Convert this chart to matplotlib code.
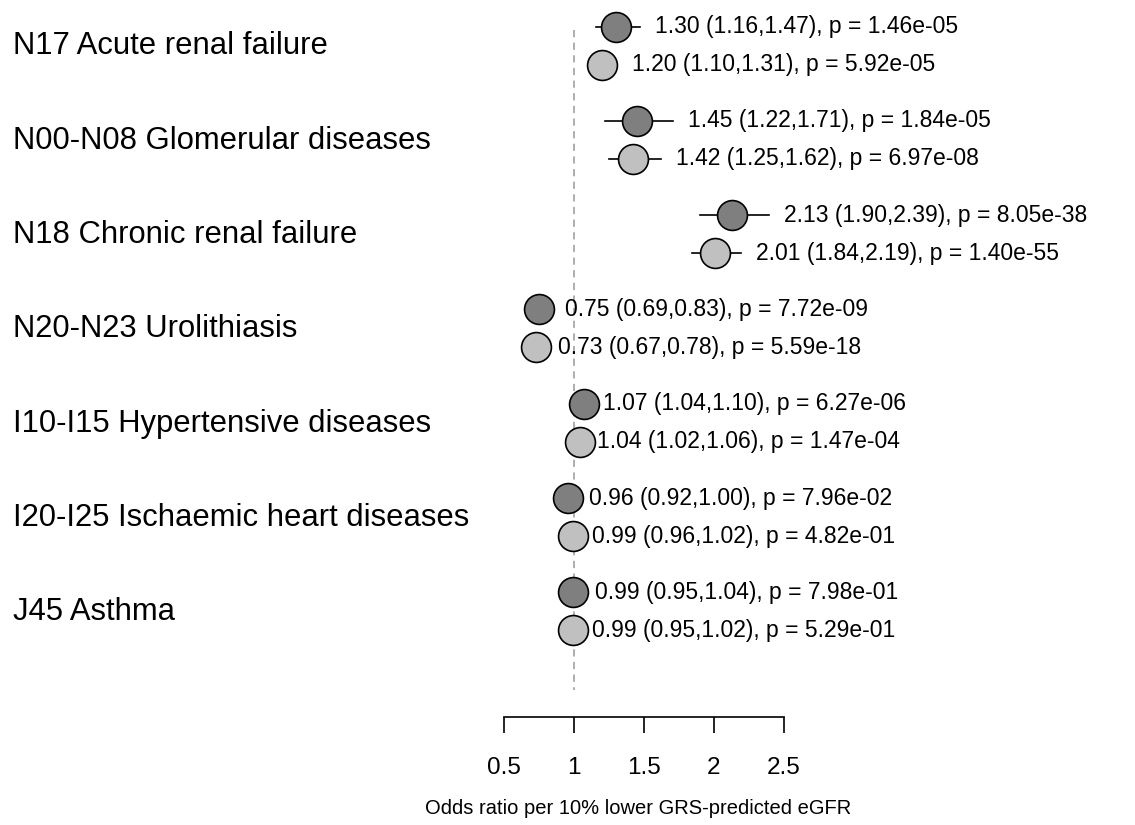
import matplotlib
matplotlib.use("Agg")
from matplotlib import pyplot as plt

plt.rcParams['font.family'] = ['Liberation Sans', 'DejaVu Sans']

# outcomes (top to bottom)
outcomes = ["N17 Acute renal failure",
            "N00-N08 Glomerular diseases",
            "N18 Chronic renal failure",
            "N20-N23 Urolithiasis",
            "I10-I15 Hypertensive diseases",
            "I20-I25 Ischaemic heart diseases",
            "J45 Asthma"]

# first estimate (dark points)
or_a = [1.30, 1.45, 2.13, 0.75, 1.07, 0.96, 0.99]
lo_a = [1.16, 1.22, 1.90, 0.69, 1.04, 0.92, 0.95]
hi_a = [1.47, 1.71, 2.39, 0.83, 1.10, 1.00, 1.04]
p_a = ["1.46e-05", "1.84e-05", "8.05e-38", "7.72e-09", "6.27e-06", "7.96e-02", "7.98e-01"]

# second estimate (light points)
or_b = [1.20, 1.42, 2.01, 0.73, 1.04, 0.99, 0.99]
lo_b = [1.10, 1.25, 1.84, 0.67, 1.02, 0.96, 0.95]
hi_b = [1.31, 1.62, 2.19, 0.78, 1.06, 1.02, 1.02]
p_b = ["5.92e-05", "6.97e-08", "1.40e-55", "5.59e-18", "1.47e-04", "4.82e-01", "5.29e-01"]

xticks = [0.5, 1, 1.5, 2, 2.5]
xlabel = "Odds ratio per 10% lower GRS-predicted eGFR"

fig = plt.figure(figsize=(11.35, 8.25), dpi=100)
ax = fig.add_axes([0, 0, 1, 1])
# x: 140 px per unit with OR=1 at 574 px; y: pixel rows top-down
ax.set_xlim(1 - 574 / 140, 1 + (1135 - 574) / 140)
ax.set_ylim(825, 0)

row0, step, off = 45.5, 94.3, 19

# reference line at OR = 1
ax.plot([1, 1], [30, 690], color="#a8a8a8", linestyle=(0, (4, 3)), linewidth=1.3, zorder=1)

for i, name in enumerate(outcomes):
    yc = row0 + i * step
    ax.text(1 - 561 / 140, yc + 1, name, fontsize=22.3, ha="left", va="center")
    for est, lo, hi, p, dy, col in [(or_a[i], lo_a[i], hi_a[i], p_a[i], -off, "#7f7f7f"),
                                    (or_b[i], lo_b[i], hi_b[i], p_b[i], off, "#c0c0c0")]:
        y = yc + dy
        ax.plot([lo, hi], [y, y], color="black", linewidth=1.2, zorder=2)
        ax.plot(est, y, "o", markersize=21.5, markerfacecolor=col,
                markeredgecolor="black", markeredgewidth=1.2, zorder=3)
        ax.text(hi + 15 / 140, y, "%.2f (%.2f,%.2f), p = %s" % (est, lo, hi, p),
                fontsize=16.5, ha="left", va="center", zorder=4)

# bottom axis with bounded spine
for s in ["top", "right", "left"]:
    ax.spines[s].set_visible(False)
ax.spines["bottom"].set_position(("data", 717))
ax.spines["bottom"].set_bounds(0.5, 2.5)
ax.spines["bottom"].set_linewidth(1.2)
ax.set_xticks(xticks)
ax.set_xticklabels(["0.5", "1", "1.5", "2", "2.5"], fontsize=17.5)
ax.tick_params(axis="x", direction="out", length=11.5, width=1.2, pad=17)
ax.set_yticks([])
ax.text(1.46, 808, xlabel, fontsize=14.5, ha="center", va="center")

plt.savefig("out.png", dpi=100)
